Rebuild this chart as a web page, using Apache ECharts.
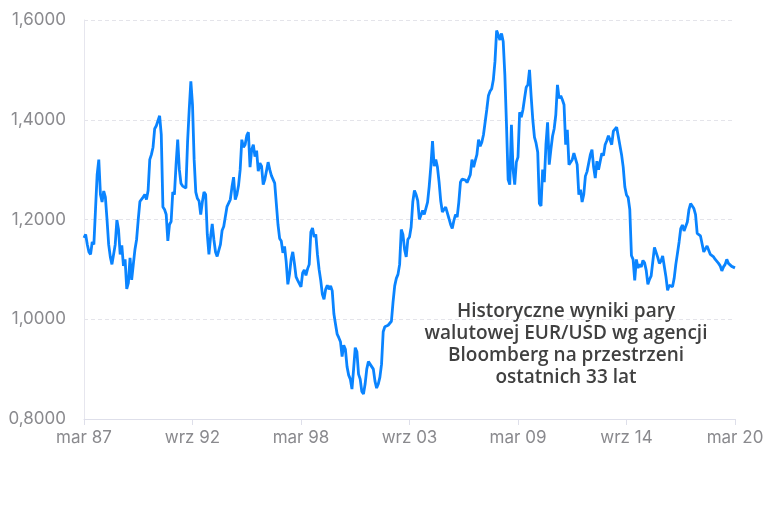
<!DOCTYPE html>
<html>
<head>
<meta charset="utf-8">
<script src="https://cdn.jsdelivr.net/npm/echarts@6/dist/echarts.min.js"></script>
<style>
  html, body { margin: 0; padding: 0; background: #fff; }
  #chart { width: 781px; height: 529px; }
</style>
</head>
<body>
<div id="chart"></div>
<script>
// kurs EUR/USD, dane miesięczne od marca 1987 do marca 2020
var monthNames = ['sty', 'lut', 'mar', 'kwi', 'maj', 'cze', 'lip', 'sie', 'wrz', 'paź', 'lis', 'gru'];
var startYear = 1987;
var startMonth = 2; // marzec

var eurusd = [
    1.163, 1.170, 1.150, 1.135, 1.130, 1.155, 1.150, 1.220, 1.290, 1.320,
    1.250, 1.235, 1.257, 1.245, 1.200, 1.150, 1.125, 1.110, 1.109, 1.150,
    1.199, 1.180, 1.130, 1.148, 1.107, 1.120, 1.061, 1.073, 1.123, 1.079,
    1.110, 1.140, 1.160, 1.200, 1.236, 1.238, 1.245, 1.250, 1.240, 1.258,
    1.320, 1.330, 1.345, 1.382, 1.388, 1.398, 1.408, 1.370, 1.225, 1.220,
    1.210, 1.157, 1.190, 1.196, 1.255, 1.250, 1.310, 1.360, 1.300, 1.272,
    1.267, 1.264, 1.263, 1.355, 1.420, 1.477, 1.430, 1.320, 1.255, 1.242,
    1.237, 1.210, 1.235, 1.255, 1.250, 1.170, 1.130, 1.165, 1.191, 1.160,
    1.135, 1.126, 1.130, 1.150, 1.178, 1.186, 1.190, 1.226, 1.229, 1.240,
    1.265, 1.285, 1.240, 1.250, 1.268, 1.300, 1.360, 1.345, 1.350, 1.368,
    1.375, 1.305, 1.340, 1.350, 1.326, 1.338, 1.297, 1.313, 1.307, 1.270,
    1.280, 1.281, 1.315, 1.300, 1.288, 1.285, 1.273, 1.272, 1.190, 1.162,
    1.157, 1.133, 1.146, 1.115, 1.070, 1.090, 1.120, 1.135, 1.112, 1.085,
    1.078, 1.075, 1.065, 1.093, 1.099, 1.088, 1.101, 1.110, 1.175, 1.183,
    1.165, 1.170, 1.130, 1.100, 1.078, 1.050, 1.040, 1.060, 1.068, 1.060,
    1.067, 1.057, 1.011, 0.990, 0.970, 0.963, 0.955, 0.925, 0.948, 0.940,
    0.905, 0.888, 0.880, 0.860, 0.900, 0.943, 0.935, 0.890, 0.880, 0.855,
    0.850, 0.870, 0.900, 0.915, 0.913, 0.905, 0.900, 0.876, 0.862, 0.870,
    0.884, 0.910, 0.975, 0.985, 0.985, 0.988, 0.992, 0.996, 1.035, 1.067,
    1.082, 1.090, 1.110, 1.180, 1.170, 1.140, 1.125, 1.160, 1.165, 1.185,
    1.235, 1.258, 1.250, 1.238, 1.200, 1.203, 1.218, 1.210, 1.210, 1.235,
    1.267, 1.307, 1.357, 1.307, 1.320, 1.305, 1.275, 1.237, 1.215, 1.211,
    1.225, 1.225, 1.202, 1.190, 1.182, 1.198, 1.210, 1.205, 1.235, 1.275,
    1.281, 1.280, 1.279, 1.274, 1.273, 1.290, 1.320, 1.305, 1.318, 1.330,
    1.360, 1.347, 1.355, 1.370, 1.368, 1.420, 1.448, 1.457, 1.462, 1.480,
    1.517, 1.579, 1.570, 1.560, 1.573, 1.557, 1.490, 1.390, 1.280, 1.270,
    1.390, 1.300, 1.270, 1.315, 1.325, 1.415, 1.405, 1.420, 1.443, 1.465,
    1.470, 1.500, 1.447, 1.400, 1.365, 1.353, 1.335, 1.232, 1.227, 1.300,
    1.275, 1.350, 1.395, 1.310, 1.340, 1.367, 1.382, 1.410, 1.470, 1.443,
    1.448, 1.440, 1.430, 1.350, 1.380, 1.310, 1.307, 1.320, 1.333, 1.335,
    1.310, 1.250, 1.260, 1.235, 1.250, 1.287, 1.296, 1.300, 1.330, 1.340,
    1.305, 1.283, 1.317, 1.300, 1.301, 1.333, 1.328, 1.350, 1.358, 1.368,
    1.360, 1.350, 1.377, 1.380, 1.385, 1.367, 1.367, 1.330, 1.305, 1.265,
    1.249, 1.244, 1.220, 1.128, 1.120, 1.078, 1.120, 1.103, 1.110, 1.105,
    1.118, 1.113, 1.098, 1.070, 1.080, 1.087, 1.090, 1.144, 1.143, 1.124,
    1.112, 1.117, 1.127, 1.127, 1.085, 1.058, 1.068, 1.070, 1.065, 1.082,
    1.110, 1.132, 1.155, 1.182, 1.189, 1.177, 1.178, 1.195, 1.220, 1.232,
    1.233, 1.222, 1.210, 1.172, 1.169, 1.167, 1.163, 1.135, 1.133, 1.147,
    1.147, 1.130, 1.133, 1.125, 1.120, 1.120, 1.112, 1.107, 1.097, 1.105,
    1.110, 1.120, 1.112, 1.108, 1.106, 1.104, 1.103
];

var yTicks = [0.8, 1.0, 1.2, 1.4, 1.6];

var noteLines = [
    'Historyczne wyniki pary',
    'walutowej EUR/USD wg agencji',
    'Bloomberg na przestrzeni',
    'ostatnich 33 lat'
];

(function() {
    // etykiety miesięcy, np. "mar 87"
    var months = [];
    for (var i = 0; i < eurusd.length; i++) {
        var m = (startMonth + i) % 12;
        var y = startYear + Math.floor((startMonth + i) / 12);
        months.push(monthNames[m] + ' ' + String(y).slice(2));
    }

    var myChart = echarts.init(document.getElementById('chart'));
    var font = 'Inter, "Liberation Sans", sans-serif';

    var option = {
        animation: false,
        textStyle: { fontFamily: font },
        grid: {
            left: 84,
            right: 46,
            top: 20,
            bottom: 110
        },
        xAxis: {
            type: 'category',
            boundaryGap: false,
            data: months,
            axisLine: { lineStyle: { color: '#dedfea', width: 1 } },
            axisTick: {
                interval: 65,
                length: 6,
                lineStyle: { color: '#dedfea' }
            },
            axisLabel: {
                interval: 65,
                color: '#8a8a8e',
                fontSize: 17,
                margin: 10,
                fontFamily: font
            },
            splitLine: { show: false }
        },
        yAxis: {
            type: 'value',
            min: yTicks[0],
            max: yTicks[yTicks.length - 1],
            interval: 0.2,
            axisLine: { show: true, lineStyle: { color: '#e6e6ee', width: 1 } },
            axisTick: { show: false },
            axisLabel: {
                color: '#8a8a8e',
                fontSize: 17,
                margin: 18,
                fontFamily: font,
                formatter: function(v) {
                    return v.toFixed(4).replace('.', ',');
                }
            },
            splitLine: {
                lineStyle: { color: '#e4e4ea', type: [4, 3], width: 1 }
            }
        },
        series: [{
            name: 'EUR/USD',
            type: 'line',
            data: eurusd,
            showSymbol: false,
            smooth: false,
            lineStyle: { color: '#0a84ff', width: 2.8 },
            itemStyle: { color: '#0a84ff' }
        }],
        graphic: [{
            type: 'text',
            x: 566,
            y: 301,
            style: {
                text: noteLines.join('\n'),
                textAlign: 'center',
                textVerticalAlign: 'top',
                fill: '#404040',
                fontFamily: '"Open Sans", sans-serif',
                fontWeight: 600,
                fontSize: 19,
                lineHeight: 22
            }
        }]
    };

    myChart.setOption(option);
})();
</script>
</body>
</html>
